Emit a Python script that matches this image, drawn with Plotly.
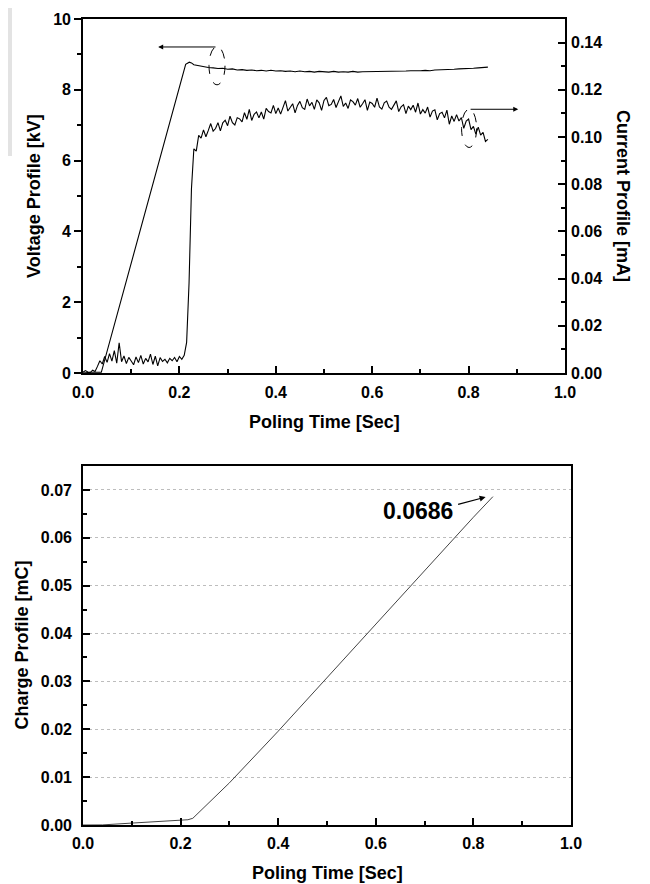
import numpy as np
import plotly.graph_objects as go

# ---------------- data ----------------
# Voltage profile [kV] vs poling time [s]
volt_t = [0.000, 0.015, 0.038, 0.213, 0.2205, 0.225, 0.230, 0.240, 0.250, 0.260, 0.270, 0.280,
          0.290, 0.300, 0.310, 0.320, 0.330, 0.340, 0.350, 0.360, 0.370, 0.380, 0.390, 0.400,
          0.410, 0.420, 0.430, 0.440, 0.450, 0.460, 0.470, 0.480, 0.490, 0.500, 0.510, 0.520,
          0.530, 0.540, 0.550, 0.560, 0.570, 0.580, 0.590, 0.600, 0.610, 0.620, 0.630, 0.640,
          0.650, 0.660, 0.670, 0.680, 0.690, 0.700, 0.710, 0.720, 0.730, 0.740, 0.750, 0.760,
          0.770, 0.780, 0.790, 0.800, 0.810, 0.820, 0.830, 0.840]
volt_kV = [0.00, 0.02, 0.02, 8.72, 8.78, 8.76, 8.71, 8.68, 8.65, 8.63, 8.62, 8.60,
           8.61, 8.58, 8.59, 8.56, 8.57, 8.55, 8.56, 8.54, 8.55, 8.53, 8.55, 8.53,
           8.54, 8.52, 8.53, 8.51, 8.53, 8.51, 8.52, 8.50, 8.52, 8.51, 8.50, 8.52,
           8.50, 8.51, 8.50, 8.52, 8.50, 8.51, 8.51, 8.52, 8.51, 8.52, 8.52, 8.53,
           8.52, 8.53, 8.53, 8.54, 8.53, 8.54, 8.55, 8.54, 8.56, 8.56, 8.57, 8.57,
           8.58, 8.59, 8.59, 8.60, 8.61, 8.62, 8.63, 8.64]

# Current profile [mA], sampled every 0.005 s from 0 to 0.84 s
current_mA = [
    0.0003, 0.0010, 0.0004, 0.0002, 0.0012, 0.0006, 0.0028, 0.0052, 0.0038, 0.0070,
    0.0045, 0.0082, 0.0050, 0.0095, 0.0042, 0.0128, 0.0048, 0.0072, 0.0040, 0.0066,
    0.0051, 0.0035, 0.0068, 0.0044, 0.0075, 0.0038, 0.0062, 0.0047, 0.0080, 0.0036,
    0.0071, 0.0030, 0.0065, 0.0049, 0.0058, 0.0043, 0.0062, 0.0052, 0.0066, 0.0048,
    0.0070, 0.0058, 0.0075, 0.0130, 0.0380, 0.0780, 0.0950, 0.0940, 0.1007, 0.0995,
    0.1030, 0.1001, 0.1028, 0.1057, 0.1025, 0.1036, 0.1061, 0.1026, 0.1060, 0.1071,
    0.1048, 0.1088, 0.1061, 0.1051, 0.1082, 0.1077, 0.1064, 0.1103, 0.1075, 0.1117,
    0.1070, 0.1096, 0.1106, 0.1081, 0.1106, 0.1076, 0.1121, 0.1108, 0.1102, 0.1134,
    0.1099, 0.1123, 0.1097, 0.1131, 0.1154, 0.1110, 0.1123, 0.1141, 0.1102, 0.1134,
    0.1151, 0.1124, 0.1117, 0.1161, 0.1132, 0.1147, 0.1117, 0.1157, 0.1145, 0.1113,
    0.1155, 0.1168, 0.1133, 0.1138, 0.1159, 0.1125, 0.1150, 0.1174, 0.1130, 0.1144,
    0.1121, 0.1157, 0.1150, 0.1135, 0.1163, 0.1126, 0.1141, 0.1158, 0.1113, 0.1148,
    0.1142, 0.1126, 0.1165, 0.1127, 0.1118, 0.1145, 0.1152, 0.1126, 0.1117, 0.1136,
    0.1153, 0.1108, 0.1128, 0.1137, 0.1099, 0.1131, 0.1116, 0.1135, 0.1105, 0.1144,
    0.1097, 0.1116, 0.1101, 0.1127, 0.1084, 0.1110, 0.1115, 0.1073, 0.1099, 0.1105,
    0.1081, 0.1114, 0.1054, 0.1089, 0.1066, 0.1095, 0.1068, 0.1082, 0.1037, 0.1067,
    0.1076, 0.1031, 0.1045, 0.1012, 0.1042, 0.1008, 0.1020, 0.0981, 0.0990,
]
current_t = list(np.round(np.arange(len(current_mA)) * 0.005, 3))

# Charge profile [mC]
charge_t = [0.000, 0.040, 0.100, 0.150, 0.200, 0.215, 0.225, 0.235, 0.250, 0.300,
            0.400, 0.500, 0.600, 0.700, 0.800, 0.840]
charge_mC = [0.0000, 0.00002, 0.0004, 0.0007, 0.0010, 0.0011, 0.0014, 0.0024, 0.0038, 0.0088,
             0.0196, 0.0308, 0.0421, 0.0533, 0.0643, 0.0686]

final_charge_label = "0.0686"

# ---------------- figure ----------------
FONT = "Liberation Sans, Arial, sans-serif"
tickfont = dict(family=FONT, size=16, color="black", weight="bold")

fig = go.Figure()
fig.add_trace(go.Scatter(x=volt_t, y=volt_kV, mode="lines", xaxis="x", yaxis="y",
                         line=dict(color="black", width=1.1), showlegend=False))
fig.add_trace(go.Scatter(x=current_t, y=current_mA, mode="lines", xaxis="x", yaxis="y2",
                         line=dict(color="black", width=1.1), showlegend=False))
fig.add_trace(go.Scatter(x=charge_t, y=charge_mC, mode="lines", xaxis="x2", yaxis="y3",
                         line=dict(color="#444444", width=1), showlegend=False))

axis_common = dict(showline=True, linecolor="black", linewidth=1.6, showgrid=False,
                   zeroline=False, tickfont=tickfont, tickcolor="black", tickwidth=1.5,
                   automargin=False)

fig.update_layout(
    width=642, height=876,
    margin=dict(l=75, r=79, t=11, b=59),
    paper_bgcolor="white", plot_bgcolor="white",
    xaxis=dict(domain=[0, 0.9877], anchor="y", range=[0, 1], dtick=0.2, tickformat=".1f",
               ticks="inside", ticklen=7, mirror=True, ticklabelstandoff=4,
               minor=dict(ticks="inside", dtick=0.1, ticklen=4, tickcolor="black", tickwidth=1.5),
               **axis_common),
    yaxis=dict(domain=[0.5608, 1], anchor="x", range=[0, 10], dtick=2,
               ticks="outside", ticklen=7,
               minor=dict(ticks="outside", dtick=1, ticklen=4, tickcolor="black", tickwidth=1.5),
               **axis_common),
    yaxis2=dict(overlaying="y", side="right", anchor="x", range=[0, 0.15], dtick=0.02,
                tickformat=".2f", ticks="inside", ticklen=7, ticklabelstandoff=1,
                minor=dict(ticks="inside", dtick=0.01, ticklen=4, tickcolor="black", tickwidth=1.5),
                **axis_common),
    xaxis2=dict(domain=[0, 1], anchor="y3", range=[0, 1], dtick=0.2, tickformat=".1f",
                ticks="inside", ticklen=7, mirror=True, ticklabelstandoff=3,
                minor=dict(ticks="inside", dtick=0.1, ticklen=4, tickcolor="black", tickwidth=1.5),
                **axis_common),
    yaxis3=dict(domain=[0, 0.4454], anchor="x2", range=[0, 0.075], dtick=0.01,
                tickformat=".2f", ticks="inside", ticklen=7, mirror=True, ticklabelstandoff=6,
                minor=dict(ticks="inside", dtick=0.005, ticklen=4, tickcolor="black", tickwidth=1.5),
                showline=True, linecolor="black", linewidth=1.6, zeroline=False,
                tickfont=tickfont, tickcolor="black", tickwidth=1.5, automargin=False,
                showgrid=True, gridcolor="#bdbdbd", griddash="3px,3px", gridwidth=1),
)

# axis titles
title_font = dict(family=FONT, size=18, color="black", weight="bold")
fig.add_annotation(text="Poling Time [Sec]", x=0.4939, y=0.5004, xref="paper", yref="paper",
                   showarrow=False, font=title_font, xanchor="center", yanchor="middle")
fig.add_annotation(text="Poling Time [Sec]", x=0.50, y=-0.0596, xref="paper", yref="paper",
                   showarrow=False, font=title_font, xanchor="center", yanchor="middle")
fig.add_annotation(text="Voltage Profile [kV]", x=-0.1004, y=0.7804, xref="paper", yref="paper",
                   showarrow=False, font=title_font, textangle=-90,
                   xanchor="center", yanchor="middle")
fig.add_annotation(text="Current Profile [mA]", x=1.1066, y=0.7804, xref="paper", yref="paper",
                   showarrow=False, font=title_font, textangle=90,
                   xanchor="center", yanchor="middle")
fig.add_annotation(text="Charge Profile [mC]", x=-0.127, y=0.2227, xref="paper", yref="paper",
                   showarrow=False, font=title_font, textangle=-90,
                   xanchor="center", yanchor="middle")

# dashed ellipses + arrows (top panel)
fig.add_shape(type="circle", xref="x", yref="y", x0=0.278 - 0.0166, x1=0.278 + 0.0166,
              y0=8.68 - 0.54, y1=8.68 + 0.54, line=dict(color="black", width=1, dash="dash"))
fig.add_shape(type="circle", xref="x", yref="y", x0=0.801 - 0.0156, x1=0.801 + 0.0156,
              y0=6.91 - 0.54, y1=6.91 + 0.54, line=dict(color="black", width=1, dash="dash"))
fig.add_annotation(x=0.156, y=9.21, ax=0.278, ay=9.21, xref="x", yref="y", axref="x", ayref="y",
                   text="", showarrow=True, arrowhead=2, arrowsize=1, arrowwidth=1, arrowcolor="black")
fig.add_annotation(x=0.903, y=7.45, ax=0.801, ay=7.45, xref="x", yref="y", axref="x", ayref="y",
                   text="", showarrow=True, arrowhead=2, arrowsize=1, arrowwidth=1, arrowcolor="black")

# final charge label (bottom panel)
fig.add_annotation(text=final_charge_label, x=0.686, y=0.0655, xref="x2", yref="y3",
                   showarrow=False, font=dict(family=FONT, size=23, color="black", weight="bold"),
                   xanchor="center", yanchor="middle")
fig.add_annotation(x=0.825, y=0.0685, ax=0.7656, ay=0.0669, xref="x2", yref="y3",
                   axref="x2", ayref="y3", text="", showarrow=True, arrowhead=2,
                   arrowsize=1, arrowwidth=1.2, arrowcolor="black")

# faint grey scan shadow at left edge
fig.add_shape(type="rect", xref="paper", yref="paper", x0=-75 / 488, x1=-71 / 488,
              y0=(806 - 137) / 806, y1=(806 + 11) / 806, line=dict(width=0),
              fillcolor="#e3e3e3", layer="below")

fig.write_html("out.html")
